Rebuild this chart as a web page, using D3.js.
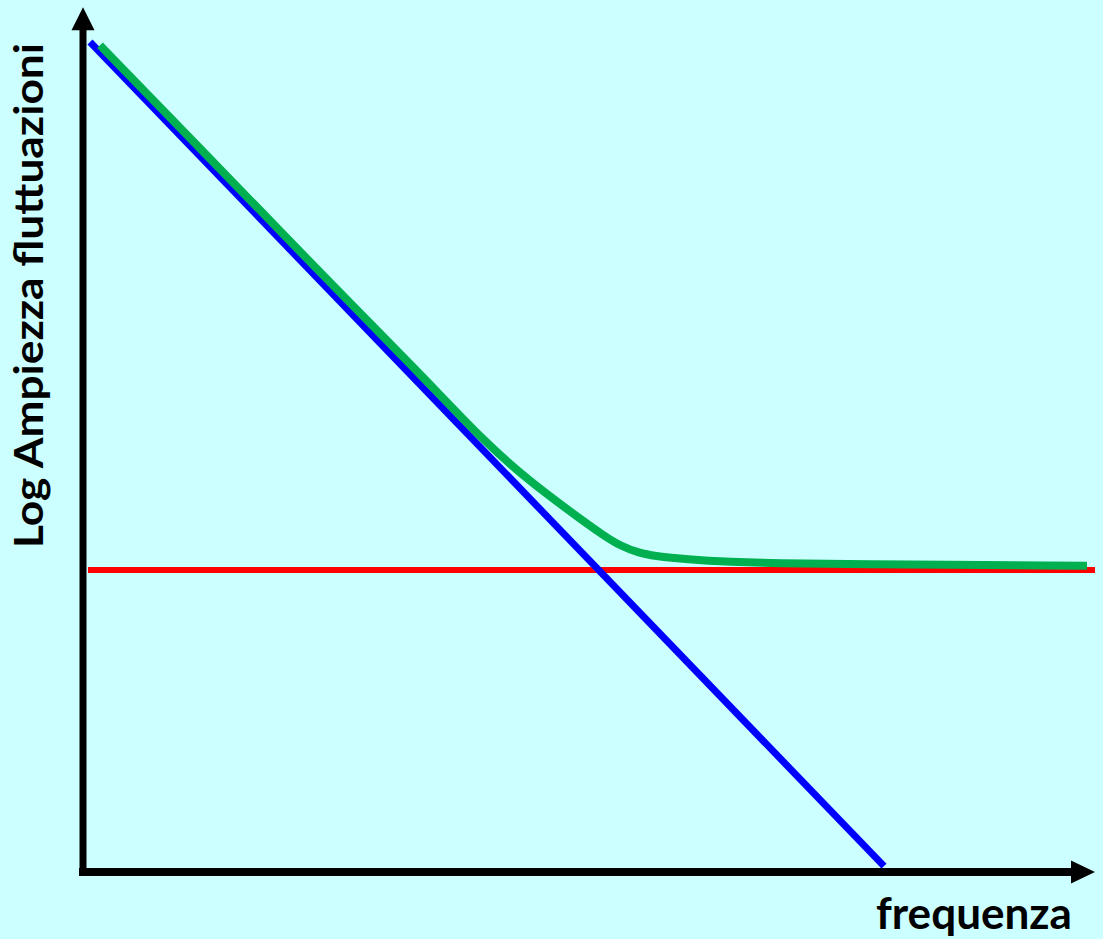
<!DOCTYPE html>
<html>
<head>
<meta charset="utf-8">
<script src="https://cdn.jsdelivr.net/npm/d3@7"></script>
<style>
  html, body { margin: 0; padding: 0; background: #CCFFFF; }
  svg { display: block; }
</style>
</head>
<body>
<script>
// asymptote for low frequency (slope) and the flat noise floor
const blueX = [0.7, 80.1];
const blueY = [100, 0.7];
const redX = [0.5, 101.2];
const redY = [36.4, 36.4];

// total fluctuation amplitude
const greenX = [1.7, 11.7, 21.7, 34.3, 40.0, 44.5, 50.0, 52.0, 53.7, 55.7, 57.0, 60.4, 64.7, 69.7, 75.7, 100.4];
const greenY = [99.6, 87.2, 74.7, 59.3, 52.0, 47.2, 42.3, 40.6, 39.3, 38.4, 38.1, 37.65, 37.35, 37.2, 37.1, 36.9];

const xLabel = 'frequenza';
const yLabel = 'Log Ampiezza fluttuazioni';

const
  width = 1103,
  height = 939,
  xAxisEnd = 101.2,
  yAxisEnd = 104.2;

const x = d3.scaleLinear().domain([0, 100]).range([83, 1083]);
const y = d3.scaleLinear().domain([0, 100]).range([872, 42]);

const svg = d3.select('body').append('svg')
  .attr('width', width)
  .attr('height', height);

svg.append('rect')
  .attr('width', width)
  .attr('height', height)
  .attr('fill', '#CCFFFF');

const line = d3.line()
  .x((d) => x(d[0]))
  .y((d) => y(d[1]));

// red noise floor
svg.append('path')
  .datum(d3.zip(redX, redY))
  .attr('d', line)
  .attr('fill', 'none')
  .attr('stroke', '#FF0000')
  .attr('stroke-width', 6);

// blue 1/f line
svg.append('path')
  .datum(d3.zip(blueX, blueY))
  .attr('d', line)
  .attr('fill', 'none')
  .attr('stroke', '#0000FF')
  .attr('stroke-width', 7);

// green sum
svg.append('path')
  .datum(d3.zip(greenX, greenY))
  .attr('d', line.curve(d3.curveBasis))
  .attr('fill', 'none')
  .attr('stroke', '#00B050')
  .attr('stroke-width', 8);

// axes with arrow heads
const axes = svg.append('g');
const x0 = x(0), y0 = y(0), xEnd = x(xAxisEnd), yEnd = y(yAxisEnd);

axes.append('line')
  .attr('x1', x0 - 4).attr('y1', y0)
  .attr('x2', xEnd - 20).attr('y2', y0)
  .attr('stroke', '#000').attr('stroke-width', 8);

axes.append('line')
  .attr('x1', x0).attr('y1', y0 + 4)
  .attr('x2', x0).attr('y2', yEnd + 20)
  .attr('stroke', '#000').attr('stroke-width', 7);

axes.append('path')
  .attr('d', `M${xEnd},${y0} L${xEnd - 24},${y0 - 11.5} L${xEnd - 24},${y0 + 11.5} Z`)
  .attr('fill', '#000');

axes.append('path')
  .attr('d', `M${x0},${yEnd} L${x0 - 11.5},${yEnd + 23} L${x0 + 11.5},${yEnd + 23} Z`)
  .attr('fill', '#000');

// labels
svg.append('text')
  .attr('x', 876)
  .attr('y', 929)
  .attr('textLength', 196)
  .attr('lengthAdjust', 'spacingAndGlyphs')
  .style('font-family', 'Lato, "Open Sans", sans-serif')
  .style('font-weight', 'bold')
  .style('font-size', '44px')
  .attr('fill', '#000')
  .text(xLabel);

svg.append('text')
  .attr('transform', 'translate(43, 548) rotate(-90)')
  .attr('textLength', 505)
  .attr('lengthAdjust', 'spacingAndGlyphs')
  .style('font-family', 'Lato, "Open Sans", sans-serif')
  .style('font-weight', 'bold')
  .style('font-size', '41px')
  .attr('fill', '#000')
  .text(yLabel);
</script>
</body>
</html>
